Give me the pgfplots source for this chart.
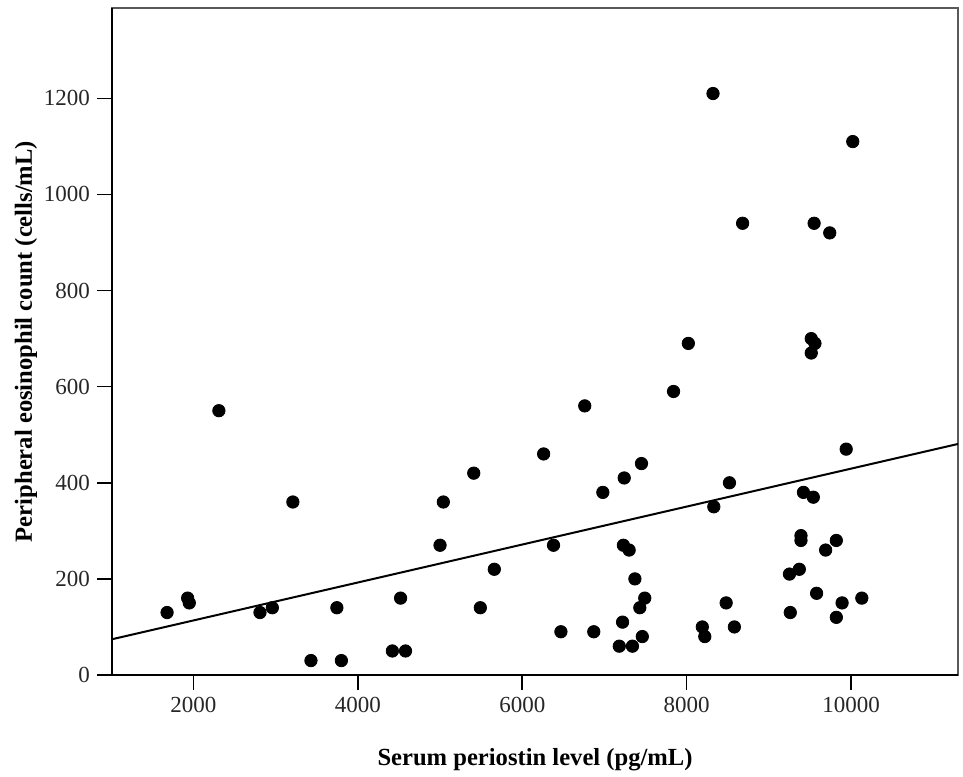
\documentclass[border=0pt]{standalone}
\usepackage{fontspec}
\setmainfont{Liberation Serif}
\usepackage{pgfplots}
\pgfplotsset{compat=1.18}
\begin{document}
\begin{tikzpicture}
\begin{axis}[
  scale only axis,
  width=423pt, height=333.5pt,
  xmin=1010, xmax=11300, ymin=0, ymax=1388,
  xtick={2000,4000,6000,8000,10000},
  ytick={0,200,400,600,800,1000,1200},
  scaled x ticks=false, scaled y ticks=false,
  xtick pos=bottom, ytick pos=left,
  tick align=outside,
  major tick length=7.5pt,
  every tick/.style={draw=black, line width=0.8pt},
  major tick style={draw=black, line width=0.8pt},
  axis line style={draw=black!65, line width=0.9pt},
  /pgf/number format/1000 sep={},
  /pgf/number format/assume math mode=true,
  every tick label/.append style={font=\fontsize{11.5pt}{13pt}\selectfont, text=black!85},
  xlabel={Serum periostin level (pg/mL)},
  ylabel={Peripheral eosinophil count (cells/mL)},
  x label style={at={(axis description cs:0.5,-0.1364)}, anchor=base, font=\fontsize{12.3pt}{14pt}\selectfont\bfseries},
  y label style={at={(axis description cs:-0.0946,0.5)}, anchor=base, rotate=0, font=\fontsize{12.3pt}{14pt}\selectfont\bfseries},
  clip=false,
]
\addplot[only marks, mark=*, mark size=3.1pt, mark options={fill=black, draw=black}] coordinates {
(1680,130) (1930,160) (1950,150) (2310,550) (2810,130) (2960,140) (3210,360)
(3430,30) (3745,140) (3800,30) (4420,50) (4520,160) (4580,50) (5000,270)
(5040,360) (5410,420) (5490,140) (5660,220) (6260,460) (6380,270) (6470,90)
(6760,560) (6870,90) (6980,380) (7180,60) (7220,110) (7230,270) (7240,410)
(7300,260) (7340,60) (7370,200) (7430,140) (7450,440) (7460,80) (7490,160)
(7840,590) (8020,690) (8190,100) (8220,80) (8320,1210) (8330,350) (8480,150)
(8520,400) (8580,100) (8680,940) (9250,210) (9260,130) (9370,220) (9390,290)
(9390,280) (9420,380) (9515,700) (9515,670) (9540,370) (9550,940) (9560,690)
(9580,170) (9690,260) (9740,920) (9820,280) (9820,120) (9890,150) (9940,470)
(10020,1110) (10130,160)
};
\addplot[black, line width=1pt] coordinates {(1010,74.4) (11300,480.8)};
\draw[black, line width=1pt] (rel axis cs:0,1) -- (rel axis cs:0,0) -- (rel axis cs:1,0);
\end{axis}
\pgfresetboundingbox
\path (current axis.south west) ++(-56pt,-50.5pt) coordinate (bbA);
\path (current axis.north east) ++(2.5pt,4pt) coordinate (bbB);
\path[use as bounding box] (bbA) rectangle (bbB);
\end{tikzpicture}
\end{document}
